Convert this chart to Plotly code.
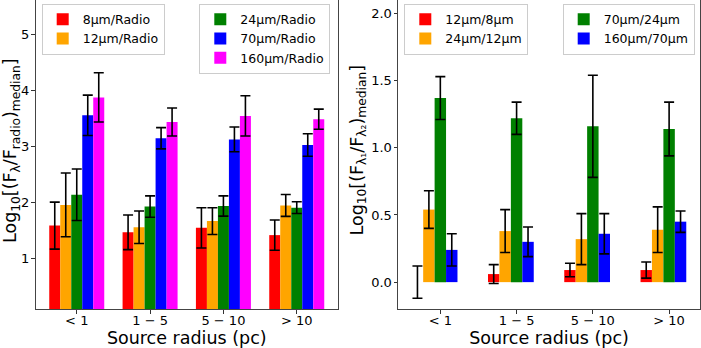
import numpy as np
import plotly.graph_objects as go

# ---------------- data ----------------
categories = ["< 1", "1 − 5", "5 − 10", "> 10"]

# left panel: log10(F_lambda / F_radio) medians and errors
left_names = ["8µm/Radio", "12µm/Radio", "24µm/Radio", "70µm/Radio", "160µm/Radio"]
r8 = [1.59, 1.47, 1.55, 1.42]
r8_err = [0.42, 0.31, 0.36, 0.27]
r12 = [1.96, 1.56, 1.67, 1.95]
r12_err = [0.57, 0.29, 0.24, 0.195]
r24 = [2.14, 1.93, 1.94, 1.91]
r24_err = [0.46, 0.19, 0.18, 0.105]
r70 = [3.56, 3.15, 3.13, 3.03]
r70_err = [0.36, 0.19, 0.22, 0.20]
r160 = [3.88, 3.44, 3.55, 3.49]
r160_err = [0.44, 0.25, 0.36, 0.18]

# right panel: log10(F_l1 / F_l2) medians and errors
right_names = ["12µm/8µm", "24µm/12µm", "70µm/24µm", "160µm/70µm"]
c12_8 = [0.0, 0.06, 0.09, 0.09]
c12_8_err = [0.12, 0.07, 0.05, 0.06]
c24_12 = [0.54, 0.38, 0.32, 0.39]
c24_12_err = [0.14, 0.16, 0.19, 0.17]
c70_24 = [1.37, 1.22, 1.16, 1.14]
c70_24_err = [0.16, 0.12, 0.38, 0.20]
c160_70 = [0.24, 0.30, 0.36, 0.45]
c160_70_err = [0.12, 0.11, 0.15, 0.08]

left_title = "Log<sub>10</sub>[(F<sub>λ</sub>/F<sub>radio</sub>)<sub>median</sub>]"
right_title = "Log<sub>10</sub>[(F<sub>λ₁</sub>/F<sub>λ₂</sub>)<sub>median</sub>]"
x_title = "Source radius (pc)"

# ---------------- style ----------------
colors5 = ["#ff0000", "#ffa500", "#008000", "#0000ff", "#ff00ff"]
colors4 = ["#ff0000", "#ffa500", "#008000", "#0000ff"]
FONT = "DejaVu Sans"
W = 0.15  # bar width in category units
x_idx = np.arange(len(categories))

fig = go.Figure()

left_vals = [r8, r12, r24, r70, r160]
left_errs = [r8_err, r12_err, r24_err, r70_err, r160_err]
left_legends = ["legend", "legend", "legend2", "legend2", "legend2"]
for k, (nm, v, e, c, lg) in enumerate(zip(left_names, left_vals, left_errs, colors5, left_legends)):
    fig.add_trace(go.Bar(
        x=x_idx, y=v, name=nm, width=W, offset=(k - 2) * W - W / 2,
        marker=dict(color=c, line=dict(width=0)),
        error_y=dict(type="data", array=e, color="black", thickness=1.6, width=5),
        xaxis="x", yaxis="y", legend=lg,
    ))

right_vals = [c12_8, c24_12, c70_24, c160_70]
right_errs = [c12_8_err, c24_12_err, c70_24_err, c160_70_err]
right_legends = ["legend3", "legend3", "legend4", "legend4"]
for k, (nm, v, e, c, lg) in enumerate(zip(right_names, right_vals, right_errs, colors4, right_legends)):
    fig.add_trace(go.Bar(
        x=x_idx, y=v, name=nm, width=W, offset=(k - 2) * W - W / 2,
        marker=dict(color=c, line=dict(width=0)),
        error_y=dict(type="data", array=e, color="black", thickness=1.6, width=5),
        xaxis="x2", yaxis="y2", legend=lg,
    ))

FIG_W, FIG_H = 701, 348
MB = 39
PH = FIG_H - MB

def px_x(p):
    return p / FIG_W

def px_y(p):
    return 1 - p / PH

axis_common = dict(
    showgrid=False, zeroline=False, showline=True, linecolor="#444", linewidth=1,
    ticks="outside", ticklen=3.5, tickwidth=1, tickcolor="#333",
    tickfont=dict(family=FONT, size=13, color="black"),
)

legend_common = dict(
    bgcolor="rgba(255,255,255,0.8)", bordercolor="#cccccc", borderwidth=1,
    font=dict(family=FONT, size=12.5, color="black"),
    xanchor="left", yanchor="top", tracegroupgap=0, itemwidth=30,
)

fig.update_layout(
    width=FIG_W, height=FIG_H,
    margin=dict(l=0, r=0, t=0, b=MB, pad=0),
    paper_bgcolor="white", plot_bgcolor="white",
    barmode="overlay", showlegend=True,
    font=dict(family=FONT, color="black"),
    xaxis=dict(axis_common, domain=[px_x(35.5), px_x(338)], range=[-0.5625, 3.5625],
               tickvals=list(x_idx), ticktext=categories, anchor="y", mirror=False,
               ticklabelstandoff=-4,
               title=dict(text=x_title, font=dict(family=FONT, size=17.5), standoff=1)),
    yaxis=dict(axis_common, domain=[0, 1], range=[0.1, 5.62], anchor="x", mirror=True,
               tickvals=[1, 2, 3, 4, 5], ticklabelstandoff=-1),
    xaxis2=dict(axis_common, domain=[px_x(398), px_x(700)], range=[-0.555, 3.405],
                tickvals=list(x_idx), ticktext=categories, anchor="y2", mirror=False,
                ticklabelstandoff=-4,
                title=dict(text=x_title, font=dict(family=FONT, size=17.5), standoff=1)),
    yaxis2=dict(axis_common, domain=[0, 1], range=[-0.2, 2.1], anchor="x2", mirror=True,
                tickvals=[0.0, 0.5, 1.0, 1.5, 2.0], tickformat=".1f", ticklabelstandoff=-1),
    legend=dict(legend_common, x=px_x(41.7), y=px_y(3.5)),
    legend2=dict(legend_common, x=px_x(199.3), y=px_y(3.5)),
    legend3=dict(legend_common, x=px_x(404.3), y=px_y(3.5)),
    legend4=dict(legend_common, x=px_x(562.7), y=px_y(3.5)),
    annotations=[
        dict(text=left_title, textangle=-90, xref="paper", yref="paper",
             x=px_x(11), y=px_y(151), xanchor="center", yanchor="middle", showarrow=False,
             font=dict(family=FONT, size=17.5, color="black")),
        dict(text=right_title, textangle=-90, xref="paper", yref="paper",
             x=px_x(357.5), y=px_y(151), xanchor="center", yanchor="middle", showarrow=False,
             font=dict(family=FONT, size=17.5, color="black")),
    ],
)

fig.write_html("out.html", config={"displayModeBar": False},
               post_script="document.body.style.margin='0';document.body.style.padding='0';")
